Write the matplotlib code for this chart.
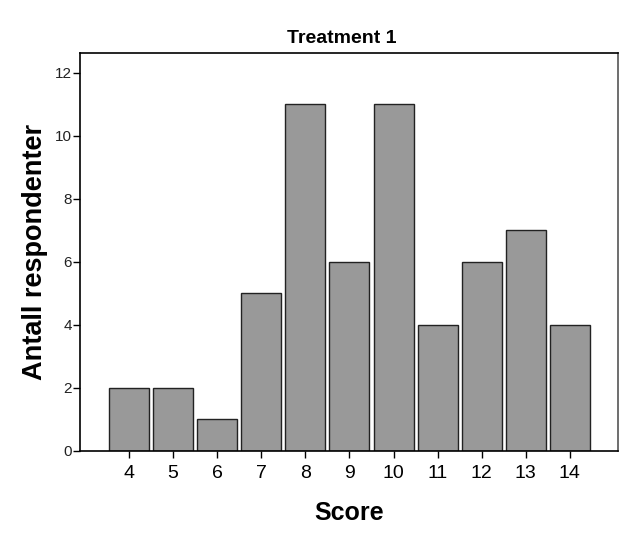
import matplotlib
matplotlib.use("Agg")
import matplotlib.pyplot as plt

plt.rcParams['font.family'] = ['Liberation Sans', 'DejaVu Sans']

scores = [4, 5, 6, 7, 8, 9, 10, 11, 12, 13, 14]
counts = [2, 2, 1, 5, 11, 6, 11, 4, 6, 7, 4]
yticks = [0, 2, 4, 6, 8, 10, 12]

fig = plt.figure(figsize=(6.26, 5.41), dpi=100)
ax = fig.add_axes([0.1278, 0.1664, 0.8594, 0.7356])
ax.bar(scores, counts, width=0.907, color='#999999', edgecolor='#222222', linewidth=1.0)
ax.set_xlim(2.89, 15.09)
ax.set_ylim(0, 12.63)
ax.set_xticks(scores)
ax.set_xticklabels([str(s) for s in scores], fontsize=14)
ax.set_yticks(yticks)
ax.set_yticklabels([str(y) for y in yticks], fontsize=11, color='#222222')
ax.tick_params(axis='both', direction='out', length=5, width=1, color='black')
ax.tick_params(axis='x', pad=5)
ax.tick_params(axis='y', pad=1)
for s in ax.spines.values():
    s.set_linewidth(1.2)
ax.spines['right'].set_color('#555555')
ax.set_title('Treatment 1', fontsize=14, fontweight='bold', pad=7, x=0.487)
ax.set_xlabel('Score', fontsize=18, fontweight='bold', labelpad=14)
ax.set_ylabel('Antall respondenter', fontsize=19.5, fontweight='bold', labelpad=5)
fig.savefig('out.png', dpi=100)
